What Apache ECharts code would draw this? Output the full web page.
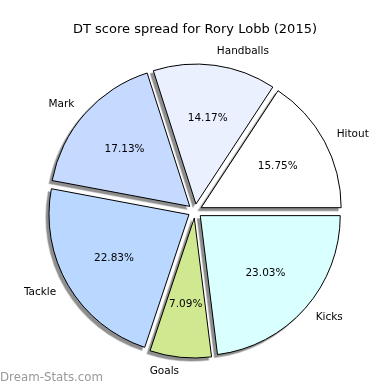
<!DOCTYPE html>
<html>
<head>
<meta charset="utf-8">
<script src="https://cdn.jsdelivr.net/npm/echarts@6/dist/echarts.min.js"></script>
<style>html,body{margin:0;padding:0;background:#fff;}#c{width:390px;height:390px;}</style>
</head>
<body>
<div id="c"></div>
<script>
const categories = ['Hitout', 'Handballs', 'Mark', 'Tackle', 'Goals', 'Kicks'];
const values = [80, 72, 87, 116, 36, 117];
const colors = ['#ffffff', '#ebf0ff', '#c6d9ff', '#b9d7ff', '#d0e88f', '#d9ffff'];
const titleText = 'DT score spread for Rory Lobb (2015)';

const chart = echarts.init(document.getElementById('c'));
const font = 'DejaVu Sans';
const R = 140;
const center = [195, 211];
const shadowCenter = [192, 214];
const offset = 7;

const mkData = (style) => categories.map((c, i) => ({
  name: c,
  value: values[i],
  selected: true,
  itemStyle: style(i)
}));

const base = {
  type: 'pie',
  startAngle: 0,
  clockwise: false,
  selectedMode: 'multiple',
  selectedOffset: offset,
  avoidLabelOverlap: false,
  silent: true,
  emphasis: { disabled: true }
};

chart.setOption({
  animation: false,
  title: {
    text: titleText,
    left: 'center',
    top: 18,
    textStyle: { fontFamily: font, fontSize: 13, fontWeight: 'normal', color: '#000' }
  },
  graphic: [{
    type: 'text',
    left: 0,
    top: 372,
    style: { text: 'Dream-Stats.com', fill: '#999999', font: '11.8px "DejaVu Sans"' }
  }],
  series: [Object.assign({}, base, {
    center: shadowCenter,
    radius: [0, R],
    label: { show: false },
    labelLine: { show: false },
    itemStyle: { borderColor: 'rgba(150,150,150,0.5)', borderWidth: 1.5 },
    data: mkData(() => ({ color: '#8e8e8e' }))
  }), Object.assign({}, base, {
    center: center,
    radius: [0, R],
    itemStyle: { borderColor: '#000', borderWidth: 1 },
    label: {
      show: true,
      position: 'outside',
      formatter: '{b}',
      fontFamily: font,
      fontSize: 10.5,
      color: '#000',
      distanceToLabelLine: 0
    },
    labelLine: { show: false, length: 14, length2: 0 },
    data: mkData((i) => ({ color: colors[i] }))
  }), Object.assign({}, base, {
    center: center,
    radius: [R * 0.2, R],
    label: {
      show: true,
      position: 'inside',
      formatter: '{d}%',
      fontFamily: font,
      fontSize: 10.5,
      color: '#000'
    },
    labelLine: { show: false },
    data: mkData(() => ({ color: 'rgba(0,0,0,0)', borderWidth: 0 }))
  })]
});
</script>
</body>
</html>
